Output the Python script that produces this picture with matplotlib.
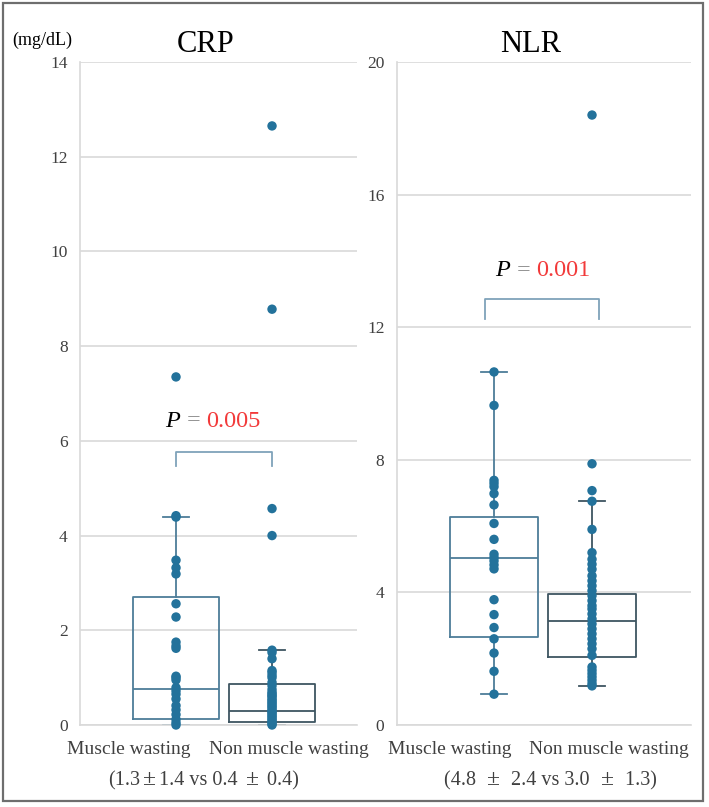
import matplotlib
matplotlib.use("Agg")
import matplotlib.pyplot as plt
from matplotlib.patches import Rectangle

# ---------------- data ----------------
groups = ["Muscle wasting", "Non muscle wasting"]

crp_mw = [0.0, 0.05, 0.12, 0.22, 0.32, 0.41, 0.55, 0.65, 0.72, 0.79, 0.95, 1.0,
          1.03, 1.62, 1.67, 1.75, 2.28, 2.56, 3.19, 3.32, 3.48, 4.39, 4.42, 7.35]
crp_nmw = [0.0, 0.02, 0.06, 0.1, 0.13, 0.17, 0.2, 0.24, 0.27, 0.3, 0.34, 0.38,
           0.41, 0.45, 0.48, 0.52, 0.55, 0.6, 0.62, 0.66, 0.69, 0.75, 0.83, 0.9,
           1.0, 1.05, 1.11, 1.15, 1.4, 1.53, 1.58, 4.0, 4.57, 8.78, 12.65]
nlr_mw = [0.93, 1.62, 2.17, 2.60, 2.94, 3.33, 3.78, 4.71, 4.83, 4.95, 5.05, 5.15,
          5.60, 6.08, 6.64, 6.98, 7.19, 7.29, 7.38, 9.64, 10.65]
nlr_nmw = [1.18, 1.25, 1.35, 1.45, 1.55, 1.65, 1.75, 2.1, 2.3, 2.45, 2.6, 2.75,
           2.9, 3.05, 3.2, 3.35, 3.5, 3.6, 3.75, 3.9, 4.05, 4.2, 4.35, 4.5, 4.7,
           4.85, 5.0, 5.2, 5.9, 6.75, 7.07, 7.88, 18.4]

# box statistics: (whislo, q1, med, q3, whishi)
crp_box = [(0.0, 0.13, 0.76, 2.70, 4.39), (0.0, 0.06, 0.29, 0.86, 1.58)]
nlr_box = [(0.93, 2.64, 5.05, 6.27, 10.65), (1.18, 2.05, 3.13, 3.96, 6.75)]

crp_ticks = [0, 2, 4, 6, 8, 10, 12, 14]
nlr_ticks = [0, 4, 8, 12, 16, 20]

crp_p = "0.005"
nlr_p = "0.001"
# summary text pieces (mean ± SD)
crp_summary = ["(1.3", "\u00b1", "1.4 vs 0.4 ", "\u00b1", " 0.4)"]
nlr_summary = ["(4.8 ", "\u00b1", " 2.4 vs 3.0 ", "\u00b1", " 1.3)"]

# ---------------- style ----------------
SERIF = ["Liberation Serif", "DejaVu Serif"]
DOT = "#23729b"
BOX_MW = "#4d7d99"
BOX_NMW = "#3e5561"
GRID = "#d9d9d9"
TXT = "#404040"
BRACKET = "#7fa3ba"

W, H = 709, 807
fig = plt.figure(figsize=(W / 100, H / 100), dpi=100)


def fx(px):
    return px / W


def fy(py):
    return 1 - py / H


def panel(rect, pts, boxes, ticks, xlim):
    ax = fig.add_axes(rect)
    ax.set_xlim(*xlim)
    ax.set_ylim(ticks[0], ticks[-1])
    ax.set_yticks(ticks)
    ax.set_yticklabels([str(t) for t in ticks], fontfamily=SERIF, fontsize=12.5, color=TXT)
    ax.set_xticks([])
    ax.tick_params(axis="y", length=0, pad=9)
    ax.grid(axis="y", color=GRID, lw=1.2, zorder=0)
    for s in ["top", "right"]:
        ax.spines[s].set_visible(False)
    for s in ["left", "bottom"]:
        ax.spines[s].set_color(GRID)
        ax.spines[s].set_linewidth(1.2)
    for i, (b, col) in enumerate(zip(boxes, [BOX_MW, BOX_NMW])):
        st = dict(whislo=b[0], q1=b[1], med=b[2], q3=b[3], whishi=b[4], fliers=[])
        ax.bxp([st], positions=[i], widths=0.9, showfliers=False, manage_ticks=False,
               boxprops=dict(color=col, lw=1.3),
               medianprops=dict(color=col, lw=1.3),
               whiskerprops=dict(color=col, lw=1.3),
               capprops=dict(color=col, lw=1.3),
               capwidths=0.27)
    for i, p in enumerate(pts):
        ax.scatter([i] * len(p), p, s=46, color=DOT, zorder=5, clip_on=False,
                   edgecolors="none")
    return ax


ax1 = panel([fx(80), fy(725), fx(357) - fx(80), fy(62) - fy(725)],
            [crp_mw, crp_nmw], crp_box, crp_ticks, (-1.0, 1.885))
ax2 = panel([fx(397), fy(725), fx(691) - fx(397), fy(62) - fy(725)],
            [nlr_mw, nlr_nmw], nlr_box, nlr_ticks, (-0.99, 2.01))


def bracket(ax, x0, x1, ytop, ybot):
    ax.plot([x0, x0, x1, x1], [ybot, ytop, ytop, ybot], color=BRACKET, lw=1.3,
            zorder=4, clip_on=False)


bracket(ax1, 0.0, 1.0, 5.76, 5.47)
bracket(ax2, -0.09, 1.07, 12.85, 12.25)

fig.canvas.draw()
R = fig.canvas.get_renderer()


def ptext(x_px, y_px, val):
    t1 = fig.text(fx(x_px), fy(y_px), "P", fontfamily=SERIF, fontstyle="italic",
                  fontsize=17.5, color="black", va="center", ha="left")
    bb = t1.get_window_extent(R)
    t2 = fig.text(bb.x1 / W + 0.009, fy(y_px), "=", fontfamily=SERIF, fontsize=17.5,
                  color="#8c8c8c", va="center", ha="left")
    bb2 = t2.get_window_extent(R)
    fig.text(bb2.x1 / W + 0.009, fy(y_px), val, fontfamily=SERIF, fontsize=17.5,
             color="#f23a3a", va="center", ha="left")


ptext(165, 421, crp_p)
ptext(495, 271, nlr_p)


def seq_text(x_px, base_px, pieces, pad):
    x = x_px
    for piece in pieces:
        is_pm = piece == "\u00b1"
        if is_pm:
            x += pad
        t = fig.text(fx(x), fy(base_px), piece, fontfamily=SERIF,
                     fontsize=17 if is_pm else 14.5, ha="left", va="baseline",
                     color=TXT)
        x = t.get_window_extent(R).x1
        if is_pm:
            x += pad


seq_text(108, 785, crp_summary, 3)
seq_text(444, 785, nlr_summary, 6)

# titles
fig.text(fx(206), fy(44), "CRP", fontfamily=SERIF, fontsize=22, ha="center", va="center",
         color="black")
fig.text(fx(531), fy(44), "NLR", fontfamily=SERIF, fontsize=22, ha="center", va="center",
         color="black")
fig.text(fx(42), fy(40), "(mg/dL)", fontfamily=SERIF, fontsize=13, ha="center",
         va="center", color="black")

# category labels
cat_x = [129, 289, 450, 609]
for x, lab in zip(cat_x, groups * 2):
    fig.text(fx(x), fy(750), lab, fontfamily=SERIF, fontsize=14, ha="center",
             va="center", color=TXT)

# outer frame
fig.patches.append(Rectangle((fx(3), fy(801)), fx(703) - fx(3), fy(3) - fy(801),
                             transform=fig.transFigure, fill=False,
                             edgecolor="#6e6e6e", lw=1.6))

fig.savefig("out.png", dpi=100)
